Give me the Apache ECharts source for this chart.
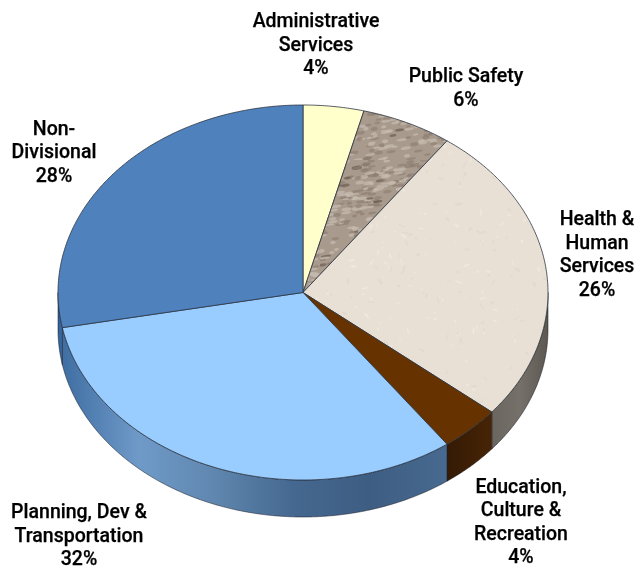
<!DOCTYPE html>
<html>
<head>
<meta charset="utf-8">
<style>html,body{margin:0;padding:0;background:#fff}#chart{width:637px;height:567px}</style>
<script src="https://cdn.jsdelivr.net/npm/echarts@6/dist/echarts.min.js"></script>
</head>
<body>
<div id="chart"></div>
<script>
// Budget share by division, clockwise from twelve o'clock.
const categories = ['Administrative\nServices', 'Public Safety', 'Health &\nHuman\nServices',
  'Education,\nCulture &\nRecreation', 'Planning, Dev &\nTransportation', 'Non-\nDivisional'];
const shares = [4, 6, 26, 4, 32, 28];

// Disc geometry: flattened ellipse plus the height of its rim.
const CX = 303, CY = 292.5, RX = 245, RY = 187.5, DEPTH = 37;
// Label block centres, same order as the categories.
const labelCentres = [[316, 46], [466, 89], [597, 255.5], [521, 523], [79, 537], [54, 153.5]];

// Small repeatable noise source for the stone and paper fills.
function noise(seed) {
  let s = seed;
  return () => (s = (s * 16807) % 2147483647) / 2147483647;
}
function stoneFill() {
  const c = document.createElement('canvas');
  c.width = 160; c.height = 160;
  const g = c.getContext('2d'), r = noise(4242);
  g.fillStyle = '#a89a8d';
  g.fillRect(0, 0, 160, 160);
  g.filter = 'blur(0.7px)';
  for (let i = 0; i < 700; i++) {
    const t = r();
    g.fillStyle = t < 0.5 ? 'rgba(200,188,176,0.7)' : t < 0.93 ? 'rgba(136,122,110,0.55)' : 'rgba(96,84,74,0.6)';
    g.beginPath();
    g.ellipse(r() * 160, r() * 160, 2.5 + r() * 3, 1 + r() * 1, -0.15, 0, Math.PI * 2);
    g.fill();
  }
  return c;
}
function paperFill() {
  const c = document.createElement('canvas');
  c.width = 240; c.height = 240;
  const g = c.getContext('2d'), r = noise(977);
  g.fillStyle = '#e8e0d4';
  g.fillRect(0, 0, 240, 240);
  g.filter = 'blur(0.6px)';
  for (let i = 0; i < 260; i++) {
    g.fillStyle = r() < 0.5 ? 'rgba(243,238,229,0.5)' : 'rgba(220,210,196,0.45)';
    g.beginPath();
    g.ellipse(r() * 240, r() * 240, 1 + r() * 3, 0.5 + r(), r() * 3, 0, Math.PI * 2);
    g.fill();
  }
  return c;
}
function sideFill(stops) {
  return { type: 'linear', x: 0, y: 0, x2: 1, y2: 0,
    colorStops: stops.map((c, i) => ({ offset: i / (stops.length - 1), color: c })) };
}

const topFills = [
  '#ffffcc',
  { image: stoneFill(), repeat: 'repeat' },
  { image: paperFill(), repeat: 'repeat' },
  '#663300',
  '#99ccff',
  '#4f81bd'
];
const sideFills = [
  '#cccc99', '#7a6c60',
  sideFill(['#6a665e', '#75706a', '#5c5850']),
  sideFill(['#341a05', '#472405']),
  sideFill(['#3f6ea3', '#6f9ac8', '#5f86ae', '#456890', '#3e5d82', '#486a90']),
  sideFill(['#2f5f9a', '#3f6ea3'])
];

// Running totals give each slice its start and end angle.
const total = shares.reduce((a, b) => a + b, 0);
let running = 0;
const sliceData = shares.map(v => {
  const row = [running, running + v];
  running += v;
  return row;
});

const rim = (deg, drop) => [
  CX + RX * Math.sin(deg * Math.PI / 180),
  CY - RY * Math.cos(deg * Math.PI / 180) + drop
];

function renderSlice(params, api) {
  const i = params.dataIndex;
  const a0 = api.value(0) / total * 360, a1 = api.value(1) / total * 360;
  const children = [];

  // Rim wall: only the part of the arc that faces the viewer.
  const w0 = Math.max(a0, 90), w1 = Math.min(a1, 270);
  if (w1 > w0) {
    const pts = [];
    for (let d = w0; d < w1; d += 0.5) pts.push(rim(d, 0));
    pts.push(rim(w1, 0));
    for (let d = w1; d > w0; d -= 0.5) pts.push(rim(d, DEPTH));
    pts.push(rim(w0, DEPTH));
    children.push({ type: 'polygon', shape: { points: pts },
      style: { fill: sideFills[i], stroke: 'rgba(25,28,38,0.65)', lineWidth: 0.8 } });
  }

  // Top face.
  const face = [[CX, CY]];
  for (let d = a0; d < a1; d += 0.5) face.push(rim(d, 0));
  face.push(rim(a1, 0));
  children.push({ type: 'polygon', shape: { points: face },
    style: { fill: topFills[i], stroke: '#2b3440', lineWidth: 0.8, lineJoin: 'round' } });

  // Name and share.
  children.push({ type: 'text', z2: 10,
    style: { x: labelCentres[i][0], y: labelCentres[i][1], align: 'center', verticalAlign: 'middle',
      text: categories[i] + '\n' + shares[i] + '%', lineHeight: 23.5,
      font: '500 19.5px Roboto, sans-serif', fill: '#000', stroke: '#000', lineWidth: 0.25 } });

  return { type: 'group', children };
}

const chart = echarts.init(document.getElementById('chart'), null, { renderer: 'canvas' });
chart.setOption({
  animation: false,
  backgroundColor: '#fff',
  series: [{ type: 'custom', coordinateSystem: 'none', renderItem: renderSlice,
    data: sliceData, silent: true }]
});
</script>
</body>
</html>
